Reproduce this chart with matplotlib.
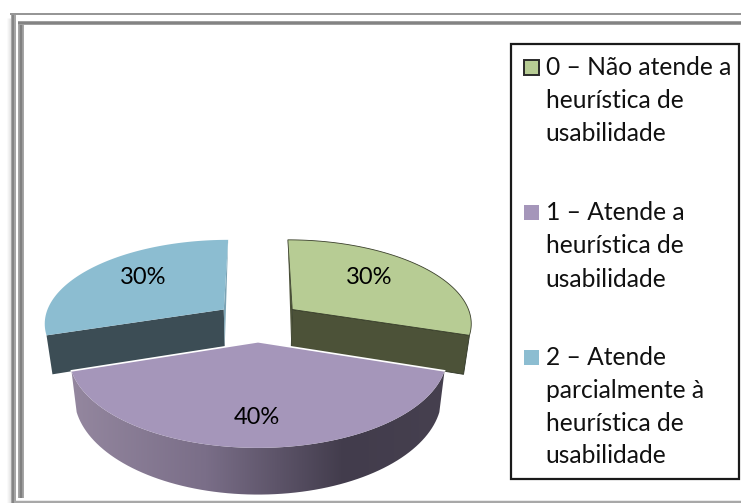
import numpy as np
import matplotlib
matplotlib.use("Agg")
import matplotlib.pyplot as plt
from matplotlib.patches import Polygon, Rectangle
from matplotlib.colors import LinearSegmentedColormap

plt.rcParams['font.family'] = ['Lato', 'DejaVu Sans']

# Chart values, in percent
categories = ["0 – Não atende a\nheurística de\nusabilidade",
              "1 – Atende a\nheurística de\nusabilidade",
              "2 – Atende\nparcialmente à\nheurística de\nusabilidade"]
shares = [30, 40, 30]
top_colors = ["#b7cc94", "#a596ba", "#8cbdd1"]
side_colors = ["#4c5238", "#6d6280", "#3c4d55"]

W, H = 741, 503
PX = 72 / 100  # one pixel in points at this dpi
fig = plt.figure(figsize=(W / 100, H / 100), dpi=100)
ax = fig.add_axes([0, 0, 1, 1])
ax.set_xlim(0, W)
ax.set_ylim(H, 0)
ax.axis("off")

# Projection of the tilted pie onto the page
CX, CY = 258, 321
RX, RY = 180, 83.3
PERSP = 0.15
EXPLODE = 0.24
DEPTH = 38
SHRINK = 0.972


def project(u, v, lower=False):
    w = 1 + PERSP * v
    x = RX * u / w
    y = CY - RY * v / w
    if lower:
        x *= SHRINK
        y += DEPTH / w
    return CX + x, y


def wedge_outline(start, stop, mid, n=80):
    du, dv = EXPLODE * np.sin(mid), EXPLODE * np.cos(mid)
    t = np.linspace(start, stop, n)
    return du, dv, du + np.sin(t), dv + np.cos(t)


def band(xs, ys, color, width_px):
    ax.plot(xs, ys, color=color, lw=width_px * PX, solid_capstyle="butt", zorder=1)


# Soft shadow left of the outer frame
for i, a in enumerate(np.linspace(0.10, 0.02, 4)):
    band([9.5 - i, 9.5 - i], [18, H], (0, 0, 0, a), 1)

# Double border, open on the right where it leaves the page
band([12.5, 12.5], [13, H], "#a6a6a6", 5)
band([12.5, 12.5], [13, H], "#858585", 2)
band([10, W], [14, 14], "#969696", 2)
band([21, 21], [21, 498], "#a6a6a6", 6)
band([21, 21], [21, 498], "#808080", 2.5)
band([18, W], [23, 23], "#a0a0a0", 4)
band([18, W], [23, 23], "#838383", 2)
band([15, W], [502, 502], "#a8a8a8", 2.5)

# Wedges, drawn back to front
fractions = np.array(shares) / sum(shares)
edges = np.concatenate([[0], np.cumsum(fractions)]) * 2 * np.pi
label_spots = [(369, 284), (257, 424), (143, 284)]
for idx in [0, 2, 1]:
    a0, a1 = edges[idx], edges[idx + 1]
    mid = (a0 + a1) / 2
    du, dv, us, vs = wedge_outline(a0, a1, mid)
    top = np.array([project(du, dv)] + [project(u, v) for u, v in zip(us, vs)])
    if idx == 1:
        # Curved front wall, lit from the left and falling into shadow
        low = np.array([project(u, v, True) for u, v in zip(us, vs)])
        wall = np.vstack([top[1:], low[::-1]])
        wall_patch = Polygon(wall, closed=True, fc="none", ec="none", zorder=3)
        ax.add_patch(wall_patch)
        cmap = LinearSegmentedColormap.from_list(
            "wall", [(0, "#94879f"), (0.36, "#7a6e88"), (0.73, "#423c4c"), (1, "#46404f")])
        grad = np.linspace(0, 1, 256).reshape(1, -1)
        im = ax.imshow(grad, cmap=cmap, extent=[wall[:, 0].min(), wall[:, 0].max(),
                                                 wall[:, 1].max(), wall[:, 1].min()],
                       aspect="auto", zorder=3)
        im.set_clip_path(wall_patch)
        ax.set_xlim(0, W)
        ax.set_ylim(H, 0)
    else:
        # Flat wall on the chord facing the viewer
        t_edge = a1 if idx == 0 else a0
        cu, cv = du + np.sin(t_edge), dv + np.cos(t_edge)
        wall = np.array([project(du, dv), project(cu, cv),
                         project(cu, cv, True), project(du, dv, True)])
        ax.add_patch(Polygon(wall, closed=True, fc=side_colors[idx],
                             ec="#2f3626" if idx == 0 else "none",
                             lw=0.6, zorder=3))
        # Thin sliver of the inner wall beside the straight back edge
        t_back = a0 if idx == 0 else a1
        ou, ov = du + np.sin(t_back), dv + np.cos(t_back)
        sliver = np.array([project(du, dv), project(ou, ov), project(du, dv, True)])
        ax.add_patch(Polygon(sliver, closed=True,
                             fc=side_colors[0] if idx == 0 else "#7ba3b4",
                             ec="none", zorder=3))
    ax.add_patch(Polygon(top, closed=True, fc=top_colors[idx],
                         ec="#3a3f2b" if idx == 0 else "none", lw=0.6, zorder=4))
    if idx == 1:
        # White seam along the two straight edges of the front wedge
        seam = np.array([top[1], top[0], top[-1]])
        ax.plot(seam[:, 0], seam[:, 1], color="white", lw=1.2, zorder=4)
    lx, ly = label_spots[idx]
    ax.text(lx, ly, f"{shares[idx]}%", fontsize=17, ha="center", va="baseline",
            color="black", zorder=6)

# Legend box with its three entries
ax.add_patch(Rectangle((510.5, 43.5), 228, 435, fc="white", ec="#1a1a1a", lw=1.6, zorder=5))
baselines = [[75, 108, 141], [220, 253, 287], [365, 398, 431, 463]]
for idx, (label, ys) in enumerate(zip(categories, baselines)):
    ax.add_patch(Rectangle((524, ys[0] - 15), 15, 15, fc=top_colors[idx],
                           ec="#2a2a2a" if idx == 0 else "none", lw=1.4, zorder=6))
    for line, y in zip(label.split("\n"), ys):
        ax.text(545.5, y, line, fontsize=17.7, va="baseline", ha="left", color="#111111", zorder=6)

fig.savefig("out.png", dpi=100)
